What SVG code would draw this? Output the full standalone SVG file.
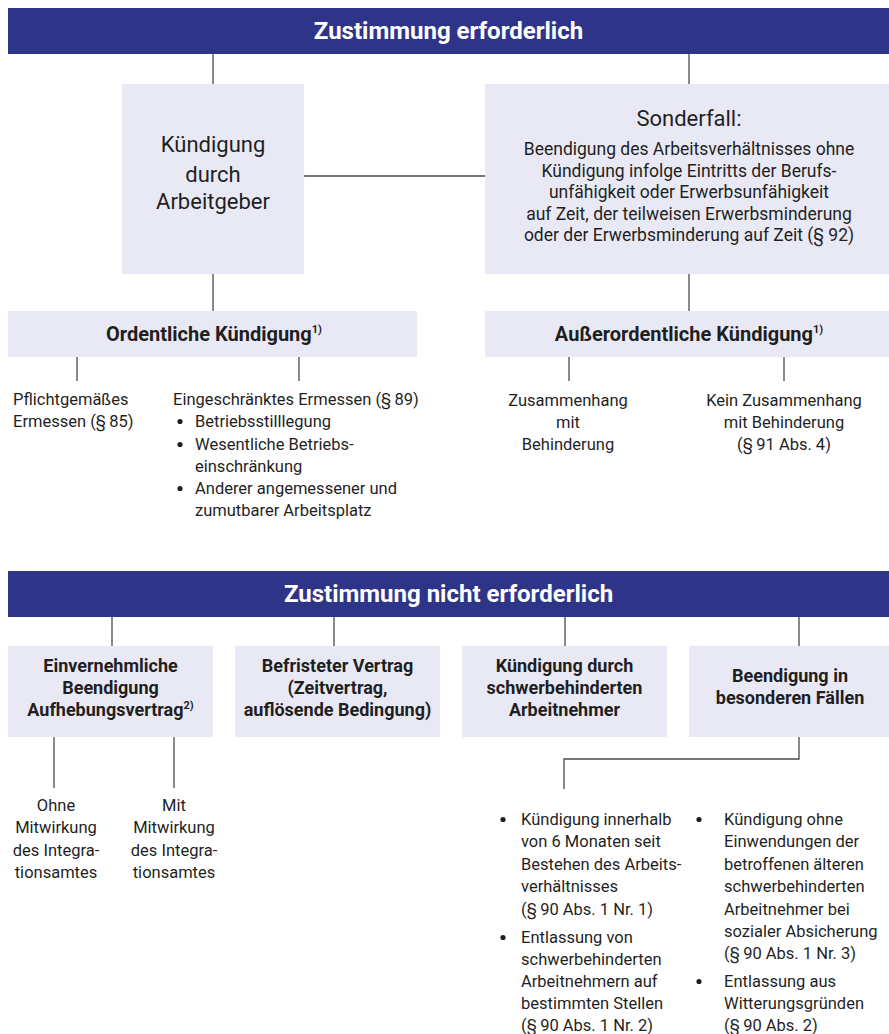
<svg xmlns="http://www.w3.org/2000/svg" width="889" height="1034" viewBox="0 0 889 1034">
<style>
.hdr{fill:#2e3589}
.box{fill:#e9e9f5}
text{font-family:Roboto,"Liberation Sans",sans-serif;fill:#1f1f1f;font-size:16.5px}
.ht{font-size:24px;font-weight:bold;fill:#ffffff;text-anchor:middle}
.big{font-size:22px}
.sf{font-size:17.5px}
.c{text-anchor:middle}
.b{font-weight:bold}
.l1{font-size:20px}
.l2{font-size:18px}
.sup{font-size:11px}
.dot{fill:#1f1f1f}
.conn path{stroke:#4a4a4a;stroke-width:1.3;fill:none}
</style>
<rect width="889" height="1034" fill="#ffffff"/>
<g class="conn" id="connectors">
<path d="M213 54V84"/>
<path d="M689 54V84"/>
<path d="M304 176H485"/>
<path d="M213 274V311"/>
<path d="M689 274V311"/>
<path d="M77 357V381"/>
<path d="M299 357V381"/>
<path d="M569 357V381"/>
<path d="M784 357V381"/>
<path d="M112 617V646"/>
<path d="M334 617V646"/>
<path d="M565 617V646"/>
<path d="M799 617V646"/>
<path d="M54 737V788"/>
<path d="M174 737V788"/>
<path d="M799 737V759H564V789"/>
</g>
<g id="header1">
<rect class="hdr" x="8" y="8" width="881" height="46"/>
<text class="ht" x="448.5" y="39">Zustimmung erforderlich</text>
</g>
<g id="kuendigung-arbeitgeber">
<rect class="box" x="122" y="84" width="182" height="190"/>
<text class="big c" x="213" y="152">Kündigung</text>
<text class="big c" x="213" y="182">durch</text>
<text class="big c" x="213" y="209">Arbeitgeber</text>
</g>
<g id="sonderfall">
<rect class="box" x="485" y="84" width="404" height="190"/>
<text class="big c" x="689" y="126">Sonderfall:</text>
<text class="sf c" x="689" y="155">Beendigung des Arbeitsverhältnisses ohne</text>
<text class="sf c" x="689" y="177">Kündigung infolge Eintritts der Berufs-</text>
<text class="sf c" x="689" y="198">unfähigkeit oder Erwerbsunfähigkeit</text>
<text class="sf c" x="689" y="220">auf Zeit, der teilweisen Erwerbsminderung</text>
<text class="sf c" x="689" y="241">oder der Erwerbsminderung auf Zeit (§ 92)</text>
</g>
<g id="ordentliche">
<rect class="box" x="8" y="311" width="409" height="46"/>
<text class="c b l1" x="214" y="341">Ordentliche Kündigung<tspan class="sup" dy="-8">1)</tspan></text>
</g>
<g id="ausserordentliche">
<rect class="box" x="485" y="311" width="404" height="46"/>
<text class="c b l1" x="689" y="341">Außerordentliche Kündigung<tspan class="sup" dy="-8">1)</tspan></text>
</g>
<g id="pflichtgemaess">
<text x="13" y="405">Pflichtgemäßes</text>
<text x="13" y="427">Ermessen (§&#8201;85)</text>
</g>
<g id="eingeschraenkt">
<text x="173" y="405">Eingeschränktes Ermessen (§&#8201;89)</text>
<circle class="dot" cx="180" cy="421.5" r="2.6"/>
<text x="195" y="427">Betriebsstilllegung</text>
<circle class="dot" cx="180" cy="444.5" r="2.6"/>
<text x="195" y="450">Wesentliche Betriebs-</text>
<text x="195" y="472">einschränkung</text>
<circle class="dot" cx="180" cy="488.5" r="2.6"/>
<text x="195" y="494">Anderer angemessener und</text>
<text x="195" y="516">zumutbarer Arbeitsplatz</text>
</g>
<g id="zusammenhang">
<text class="c" x="568" y="406">Zusammenhang</text>
<text class="c" x="568" y="428">mit</text>
<text class="c" x="568" y="450">Behinderung</text>
</g>
<g id="kein-zusammenhang">
<text class="c" x="784" y="406">Kein Zusammenhang</text>
<text class="c" x="784" y="428">mit Behinderung</text>
<text class="c" x="784" y="450">(§&#8201;91 Abs. 4)</text>
</g>
<g id="header2">
<rect class="hdr" x="8" y="571" width="881" height="46"/>
<text class="ht" x="448.5" y="602">Zustimmung nicht erforderlich</text>
</g>
<g id="einvernehmlich">
<rect class="box" x="8" y="646" width="205" height="91"/>
<text class="c b l2" x="110.5" y="672">Einvernehmliche</text>
<text class="c b l2" x="110.5" y="694">Beendigung</text>
<text class="c b l2" x="110.5" y="716">Aufhebungsvertrag<tspan class="sup" dy="-7">2)</tspan></text>
</g>
<g id="befristet">
<rect class="box" x="235" y="646" width="205" height="91"/>
<text class="c b l2" x="337.5" y="672">Befristeter Vertrag</text>
<text class="c b l2" x="337.5" y="694">(Zeitvertrag,</text>
<text class="c b l2" x="337.5" y="716">auflösende Bedingung)</text>
</g>
<g id="schwerbehindert">
<rect class="box" x="462" y="646" width="205" height="91"/>
<text class="c b l2" x="564.5" y="672">Kündigung durch</text>
<text class="c b l2" x="564.5" y="694">schwerbehinderten</text>
<text class="c b l2" x="564.5" y="716">Arbeitnehmer</text>
</g>
<g id="besondere">
<rect class="box" x="689" y="646" width="200" height="91"/>
<text class="c b l2" x="790" y="682">Beendigung in</text>
<text class="c b l2" x="790" y="704">besonderen Fällen</text>
</g>
<g id="ohne-mitwirkung">
<text class="c" x="56" y="811">Ohne</text>
<text class="c" x="56" y="833">Mitwirkung</text>
<text class="c" x="56" y="856">des Integra-</text>
<text class="c" x="56" y="878">tionsamtes</text>
</g>
<g id="mit-mitwirkung">
<text class="c" x="174" y="811">Mit</text>
<text class="c" x="174" y="833">Mitwirkung</text>
<text class="c" x="174" y="856">des Integra-</text>
<text class="c" x="174" y="878">tionsamtes</text>
</g>
<g id="liste-links">
<circle class="dot" cx="503" cy="819.5" r="2.6"/>
<text x="521" y="825">Kündigung innerhalb</text>
<text x="521" y="847">von 6 Monaten seit</text>
<text x="521" y="870">Bestehen des Arbeits-</text>
<text x="521" y="892">verhältnisses</text>
<text x="521" y="915">(§&#8201;90 Abs. 1 Nr. 1)</text>
<circle class="dot" cx="503" cy="937.5" r="2.6"/>
<text x="521" y="943">Entlassung von</text>
<text x="521" y="965">schwerbehinderten</text>
<text x="521" y="987">Arbeitnehmern auf</text>
<text x="521" y="1009">bestimmten Stellen</text>
<text x="521" y="1031">(§&#8201;90 Abs. 1 Nr. 2)</text>
</g>
<g id="liste-rechts">
<circle class="dot" cx="699" cy="819.5" r="2.6"/>
<text x="724" y="825">Kündigung ohne</text>
<text x="724" y="847">Einwendungen der</text>
<text x="724" y="870">betroffenen älteren</text>
<text x="724" y="892">schwerbehinderten</text>
<text x="724" y="915">Arbeitnehmer bei</text>
<text x="724" y="937">sozialer Absicherung</text>
<text x="724" y="959">(§&#8201;90 Abs. 1 Nr. 3)</text>
<circle class="dot" cx="699" cy="981.5" r="2.6"/>
<text x="724" y="987">Entlassung aus</text>
<text x="724" y="1009">Witterungsgründen</text>
<text x="724" y="1031">(§&#8201;90 Abs. 2)</text>
</g>
</svg>
